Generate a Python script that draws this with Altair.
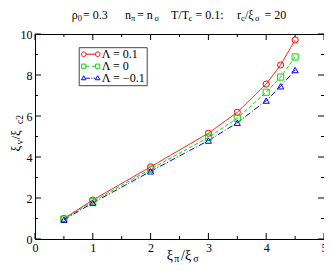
import altair as alt
import pandas as pd

FONT = "Liberation Serif"
W, H = 289, 205
PL = 27

# ---- data ----
x_vals = [0.5, 1, 2, 3, 3.5, 4, 4.25, 4.5]
lam_p01 = [1.0, 1.9, 3.52, 5.16, 6.18, 7.56, 8.49, 9.71]
lam_0 = [0.97, 1.83, 3.41, 4.96, 5.89, 7.16, 7.9, 8.88]
lam_m01 = [0.94, 1.76, 3.3, 4.8, 5.67, 6.75, 7.45, 8.24]
series_labels = ["Λ = 0.1", "Λ = 0", "Λ = −0.1"]

x_ticks_major = [0, 1, 2, 3, 4, 5]
x_ticks_minor = [0.5, 1.5, 2.5, 3.5, 4.5]
y_ticks_major = [0, 2, 4, 6, 8, 10]
y_ticks_minor = [1, 3, 5, 7, 9]

colors = ["#ff0000", "#00e000", "#0000ff"]
dashes = [[1, 0], [4, 2], [6, 2, 1, 2]]
shapes = ["circle", "square", "triangle-up"]

rows = []
for lab, ys in zip(series_labels, [lam_p01, lam_0, lam_m01]):
    for xv, yv in zip(x_vals, ys):
        rows.append({"x": xv, "y": yv, "series": lab})
df = pd.DataFrame(rows)


def circ(cx, r):
    return f"M{cx - r},0 A{r},{r} 0 1,1 {cx + r},0 A{r},{r} 0 1,1 {cx - r},0 Z "


def sq(cx, h):
    return f"M{cx - h},{-h} L{cx + h},{-h} L{cx + h},{h} L{cx - h},{h} Z "


def tri(cx, h):
    return f"M{cx},{-h * 1.1} L{cx + h},{h * 0.7} L{cx - h},{h * 0.7} Z "


legend_paths = [
    circ(-1.4, 0.46) + circ(1.4, 0.46) + "M-0.94,0 L0.94,0",
    sq(-1.4, 0.42) + sq(1.4, 0.42) + "M-0.98,0 L-0.25,0 M0.25,0 L0.98,0",
    tri(-1.4, 0.45) + tri(1.4, 0.45) + "M-0.95,0 L-0.15,0 M0.15,0 L0.35,0 M0.6,0 L0.95,0",
]

xscale = alt.Scale(domain=[0, 5], nice=False, zero=False)
yscale = alt.Scale(domain=[0, 10], nice=False, zero=False)

x_axis = alt.Axis(values=x_ticks_major, title=None, ticks=False, domain=False, grid=False,
                  labelFlush=False, labelOverlap=False, labelPadding=3, labelFont=FONT,
                  labelFontSize=12, labelColor="black")
y_axis = alt.Axis(values=y_ticks_major, title=None, ticks=False, domain=False, grid=False,
                  labelFlush=False, labelOverlap=False, labelPadding=3, labelFont=FONT,
                  labelFontSize=12, labelColor="black")


def X(field):
    return alt.X(field, scale=xscale, axis=x_axis)


def Y(field):
    return alt.Y(field, scale=yscale, axis=y_axis)


def C(legend=None):
    return alt.Color("series:N", scale=alt.Scale(domain=series_labels, range=colors), legend=legend)


base = alt.Chart(df)

lines = base.mark_line(strokeWidth=1).encode(
    x=X("x:Q"), y=Y("y:Q"), color=C(),
    strokeDash=alt.StrokeDash("series:N", scale=alt.Scale(domain=series_labels, range=dashes), legend=None),
)

points = base.mark_point(filled=False, size=38, strokeWidth=1, opacity=1).encode(
    x=X("x:Q"), y=Y("y:Q"), color=C(),
    shape=alt.Shape("series:N", scale=alt.Scale(domain=series_labels, range=shapes), legend=None),
)

leg = alt.Legend(title=None, orient="none", legendX=43.7, legendY=13.2, padding=1,
                 symbolOffset=5, symbolSize=100, symbolStrokeWidth=1, labelFont=FONT,
                 labelFontSize=12, labelOffset=5, rowPadding=-3, strokeColor="#444",
                 fillColor="white", labelLimit=0, labelColor="black")

legend_layer = base.mark_point(filled=False, strokeWidth=1, opacity=1).encode(
    x=X("x:Q"), y=Y("y:Q"), color=C(leg),
    shape=alt.Shape("series:N", scale=alt.Scale(domain=series_labels, range=legend_paths), legend=leg),
).transform_filter("false")


def tick_layer(vals, channel, side, length):
    d = pd.DataFrame({"v": vals})
    if channel == "x":
        enc = dict(x=X("v:Q"))
        if side == "low":
            enc.update(y=alt.value(H), y2=alt.value(H - length))
        else:
            enc.update(y=alt.value(0), y2=alt.value(length))
    else:
        enc = dict(y=Y("v:Q"))
        if side == "low":
            enc.update(x=alt.value(0), x2=alt.value(length))
        else:
            enc.update(x=alt.value(W), x2=alt.value(W - length))
    return alt.Chart(d).mark_rule(color="black", strokeWidth=1).encode(**enc)


ticks = []
for side in ["low", "high"]:
    ticks.append(tick_layer(x_ticks_major, "x", side, 6))
    ticks.append(tick_layer(x_ticks_minor, "x", side, 3))
    ticks.append(tick_layer(y_ticks_major, "y", side, 6))
    ticks.append(tick_layer(y_ticks_minor, "y", side, 3))

one = pd.DataFrame({"k": [0]})


def seg(txt, x, y, size, angle=0):
    return alt.Chart(one).mark_text(align="left", baseline="alphabetic", font=FONT,
                                    fontSize=size, angle=angle, color="black").encode(
        x=alt.value(x), y=alt.value(y), text=alt.value(txt))


TM, TS = 12, 8.5
ty, tys = -15.5, -12.8
title_parts = [
    ("ρ", 36.7, ty, TM), ("0", 42.8, tys, TS), ("= 0.3", 48, ty, TM),
    ("n", 90, ty, TM), ("π", 96, tys, TS), ("= n", 102, ty, TM), ("σ", 119.5, tys, TS),
    ("T/T", 136, ty, TM), ("c", 153.5, tys, TS), ("= 0.1:", 160.5, ty, TM),
    ("r", 202, ty, TM), ("c", 206, tys, TS), ("/ξ", 210, ty, TM), ("σ", 220, tys, TS),
    ("= 20", 229.5, ty, TM),
]
AM, AS = 14, 10
xt_parts = [
    ("ξ", 131.7, 225.5, AM), ("π", 139.3, 228, AS), ("/ξ", 146, 225.5, AM), ("σ", 158.3, 228, AS),
]
texts = [seg(*p) for p in title_parts] + [seg(*p) for p in xt_parts]
YM, YS = 13, 9.5
yx, yxs = -15.3, -12.5
yt_parts = [
    ("ξ", yx, 117.5, YM), ("v", yxs, 110.5, YS), ("/ξ", yx, 105.5, YM), ("c2", yxs, 90, YS),
]
texts += [seg(t, x, y, s, angle=270) for (t, x, y, s) in yt_parts]

chart = alt.layer(lines, points, legend_layer, *ticks, *texts).resolve_scale(
    shape="independent", color="independent"
).properties(
    width=W, height=H,
    padding={"left": PL, "top": 26, "right": 0, "bottom": 32},
    autosize=alt.AutoSizeParams(type="none"),
    background="white",
).configure_view(stroke="black", strokeWidth=1)

chart.save("out.html", embed_options={"renderer": "svg", "actions": False})
